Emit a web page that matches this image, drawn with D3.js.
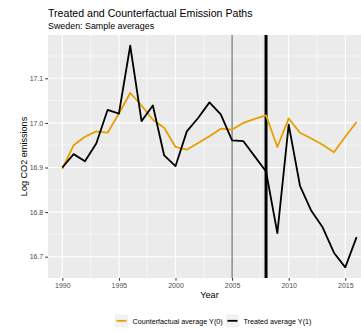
<!DOCTYPE html>
<html>
<head>
<meta charset="utf-8">
<script src="https://cdn.jsdelivr.net/npm/d3@7"></script>
<style>
  html, body { margin: 0; padding: 0; background: #fff; }
  svg { display: block; font-family: "Liberation Sans", Arial, sans-serif; }
</style>
</head>
<body>
<svg id="chart" width="361" height="331"></svg>
<script>
// Sample averages for Sweden, log CO2 emissions by year
const years = d3.range(1990, 2017);
const treated = [16.900, 16.930, 16.914, 16.954, 17.029, 17.021, 17.173, 17.004, 17.039,
                 16.927, 16.903, 16.981, 17.011, 17.046, 17.019, 16.961, 16.959, 16.925,
                 16.891, 16.753, 16.996, 16.859, 16.803, 16.766, 16.709, 16.676, 16.744];
const counterfactual = [16.897, 16.950, 16.969, 16.981, 16.978, 17.021, 17.067, 17.039, 17.007,
                        16.989, 16.946, 16.940, 16.955, 16.970, 16.987, 16.985, 17.000, 17.009,
                        17.017, 16.946, 17.010, 16.978, 16.965, 16.951, 16.934, 16.969, 17.002];
const xTicks = [1990, 1995, 2000, 2005, 2010, 2015];
const yTicks = [16.7, 16.8, 16.9, 17.0, 17.1];
const markerYears = [2005, 2008];
const seriesNames = ["Counterfactual average Y(0)", "Treated average Y(1)"];

const svg = d3.select("#chart");
const panel = { left: 48, top: 35, right: 372, bottom: 278 };

const x = d3.scaleLinear().domain([1988.7, 2017.3]).range([47.6, 371.3]);
const y = d3.scaleLinear().domain([16.7, 17.1]).range([256.7, 78.3]);

// Titles
svg.append("text").attr("x", 48).attr("y", 17).attr("font-size", 10.6).attr("fill", "#000")
  .text("Treated and Counterfactual Emission Paths");
svg.append("text").attr("x", 48).attr("y", 28.5).attr("font-size", 8.9).attr("fill", "#000")
  .text("Sweden: Sample averages");

// Panel background
svg.append("rect").attr("x", panel.left).attr("y", panel.top)
  .attr("width", panel.right - panel.left).attr("height", panel.bottom - panel.top)
  .attr("fill", "#EBEBEB");

const grid = svg.append("g");
// Minor grid
const yMinor = yTicks.slice(0, -1).map(v => v + 0.05).concat([16.65, 17.15]);
const xMinor = xTicks.map(v => v + 2.5).concat([1987.5]);
yMinor.filter(v => y(v) > panel.top && y(v) < panel.bottom).forEach(v => {
  grid.append("line").attr("x1", panel.left).attr("x2", panel.right)
    .attr("y1", y(v)).attr("y2", y(v)).attr("stroke", "#fff").attr("stroke-width", 0.55);
});
xMinor.filter(v => x(v) > panel.left).forEach(v => {
  grid.append("line").attr("y1", panel.top).attr("y2", panel.bottom)
    .attr("x1", x(v)).attr("x2", x(v)).attr("stroke", "#fff").attr("stroke-width", 0.55);
});
// Major grid
yTicks.forEach(v => {
  grid.append("line").attr("x1", panel.left).attr("x2", panel.right)
    .attr("y1", y(v)).attr("y2", y(v)).attr("stroke", "#fff").attr("stroke-width", 1.1);
});
xTicks.forEach(v => {
  grid.append("line").attr("y1", panel.top).attr("y2", panel.bottom)
    .attr("x1", x(v)).attr("x2", x(v)).attr("stroke", "#fff").attr("stroke-width", 1.1);
});

// Axes
const yAxis = svg.append("g").attr("transform", `translate(${panel.left},0)`)
  .call(d3.axisLeft(y).tickValues(yTicks).tickFormat(d3.format(".1f")).tickSize(2.75).tickPadding(2));
const xAxis = svg.append("g").attr("transform", `translate(0,${panel.bottom})`)
  .call(d3.axisBottom(x).tickValues(xTicks).tickFormat(d3.format("d")).tickSize(2.75).tickPadding(2.5));
[yAxis, xAxis].forEach(a => {
  a.select(".domain").remove();
  a.selectAll(".tick line").attr("stroke", "#333").attr("stroke-width", 1);
  a.selectAll(".tick text").attr("fill", "#4D4D4D").attr("font-size", 7)
    .attr("font-family", "Liberation Sans, Arial, sans-serif");
});

// Axis titles
svg.append("text").attr("x", (panel.left + 371) / 2).attr("y", 298).attr("text-anchor", "middle")
  .attr("font-size", 9.2).attr("fill", "#000").text("Year");
svg.append("text").attr("transform", `translate(27,${(panel.top + panel.bottom) / 2}) rotate(-90)`)
  .attr("text-anchor", "middle").attr("font-size", 9.1).attr("fill", "#000").text("Log CO2 emissions");

// Event markers
svg.append("line").attr("x1", x(markerYears[0])).attr("x2", x(markerYears[0]))
  .attr("y1", panel.top).attr("y2", panel.bottom).attr("stroke", "#555").attr("stroke-width", 1);
svg.append("line").attr("x1", x(markerYears[1])).attr("x2", x(markerYears[1]))
  .attr("y1", panel.top).attr("y2", panel.bottom).attr("stroke", "#000").attr("stroke-width", 3);

// Series lines
const line = d3.line().x((d, i) => x(years[i])).y(d => y(d));
svg.append("path").datum(counterfactual).attr("d", line).attr("fill", "none")
  .attr("stroke", "#E69F00").attr("stroke-width", 1.8).attr("stroke-linejoin", "round");
svg.append("path").datum(treated).attr("d", line).attr("fill", "none")
  .attr("stroke", "#000").attr("stroke-width", 1.8).attr("stroke-linejoin", "round");

// Legend
const legend = svg.append("g");
const legendItems = [
  { name: seriesNames[0], color: "#E69F00", kx: 115 },
  { name: seriesNames[1], color: "#000", kx: 226 }
];
legendItems.forEach(it => {
  legend.append("rect").attr("x", it.kx).attr("y", 314.3).attr("width", 13).attr("height", 13).attr("fill", "#F2F2F2");
  legend.append("line").attr("x1", it.kx + 1.5).attr("x2", it.kx + 11.5).attr("y1", 320.8).attr("y2", 320.8)
    .attr("stroke", it.color).attr("stroke-width", 1.8);
  legend.append("text").attr("x", it.kx + 17.5).attr("y", 324.2).attr("font-size", 7.2).attr("fill", "#000")
    .text(it.name);
});
</script>
</body>
</html>
